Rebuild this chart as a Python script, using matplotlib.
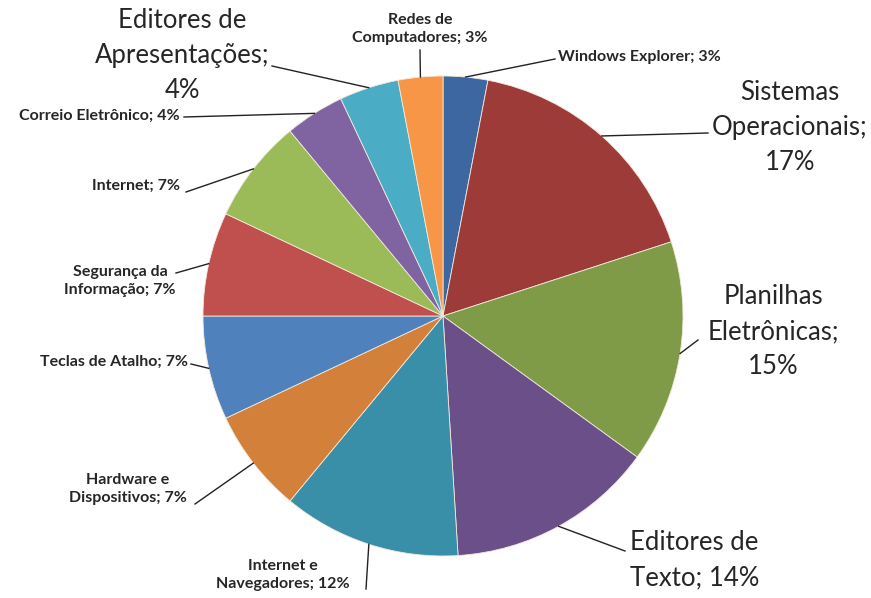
import numpy as np
import matplotlib
matplotlib.use('Agg')
import matplotlib.pyplot as plt

plt.rcParams['font.family'] = ['Lato', 'DejaVu Sans']

# data: clockwise from 12 o'clock
labels = ['Windows Explorer', 'Sistemas\nOperacionais', 'Planilhas\nEletrônicas',
          'Editores de\nTexto', 'Internet e\nNavegadores', 'Hardware e\nDispositivos',
          'Teclas de Atalho', 'Segurança da\nInformação', 'Internet',
          'Correio Eletrônico', 'Editores de\nApresentações', 'Redes de\nComputadores']
values = [3, 17, 15, 14, 12, 7, 7, 7, 7, 4, 4, 3]
colors = ['#3d67a0', '#9c3b38', '#7f9b48', '#6a4f89', '#3a8fa8', '#d3803a',
          '#4f81bd', '#c0504d', '#9bbb59', '#8064a2', '#4bacc6', '#f79646']
pct_text = ['Windows Explorer; 3%', 'Sistemas\nOperacionais;\n17%', 'Planilhas\nEletrônicas;\n15%',
            'Editores de\nTexto; 14%', 'Internet e\nNavegadores; 12%', 'Hardware e\nDispositivos; 7%',
            'Teclas de Atalho; 7%', 'Segurança da\nInformação; 7%', 'Internet; 7%',
            'Correio Eletrônico; 4%', 'Editores de\nApresentações;\n4%', 'Redes de\nComputadores; 3%']

W, H = 871, 598
cx, cy, R = 443, 316, 240

def py(y):
    return H - y

fig = plt.figure(figsize=(W / 100, H / 100), dpi=100)
ax = fig.add_axes([0, 0, 1, 1])

wedges, _ = ax.pie(values, colors=colors, startangle=90, counterclock=False,
                   center=(cx, py(cy)), radius=R,
                   wedgeprops=dict(edgecolor='#f4e8dc', linewidth=0.6))
ax.set_xlim(0, W)
ax.set_ylim(0, H)
ax.set_aspect('equal')
ax.axis('off')

# label placement: (text x, text y, ha, size, elbow point)
big = 18.5
small = 11.5
place = [
    (558, 57, 'left', small, (555, 59)),
    (790, 127, 'center', big, (708, 133)),
    (773, 332, 'center', big, (698, 340)),
    (630, 560, 'left', big, (625, 551)),
    (283, 575, 'center', small, (366, 589)),
    (128, 489, 'center', small, (195, 504)),
    (188, 362, 'right', small, (191, 364)),
    (120, 281, 'center', small, (176, 273)),
    (180, 186, 'right', small, (186, 192)),
    (180, 116, 'right', small, (184, 117)),
    (182, 55, 'center', big, (272, 66)),
    (420, 29, 'center', small, (420, 50)),
]

total = sum(values)
cum = 0
for i, v in enumerate(values):
    mid = (cum + v / 2) / total * 2 * np.pi
    cum += v
    ex = cx + R * np.sin(mid)
    ey = cy - R * np.cos(mid)
    tx, ty, ha, fs, elbow = place[i]
    ax.plot([ex, elbow[0]], [py(ey), py(elbow[1])], color='#222222', lw=1.0)
    ax.text(tx, py(ty), pct_text[i], ha=ha, va='center', fontsize=fs,
            color='#262626', linespacing=1.5 if fs == big else 1.45,
            fontweight='bold' if fs == small else 'normal')

fig.savefig('out.png', dpi=100)
